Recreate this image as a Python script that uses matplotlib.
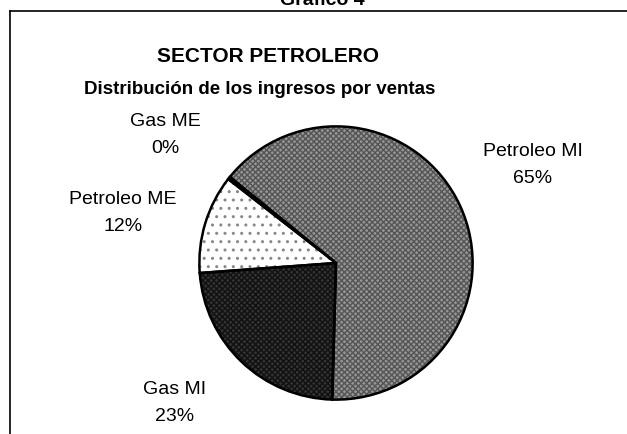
import matplotlib
matplotlib.use("Agg")
import matplotlib.pyplot as plt

plt.rcParams['font.family'] = ['Liberation Sans', 'DejaVu Sans']

categories = ["Petroleo MI", "Gas MI", "Petroleo ME", "Gas ME"]
values = [64.6, 23.4, 11.7, 0.3]
pct_labels = ["65%", "23%", "12%", "0%"]
title = "SECTOR PETROLERO"
subtitle = "Distribución de los ingresos por ventas"
chart_name = "Grafico 4"

W, H = 627, 435
fig = plt.figure(figsize=(W / 100, H / 100), dpi=100)

def fx(px):
    return px / W

def fy(py):
    return 1 - py / H

# frame (top and left lines)
fig.add_artist(plt.Line2D([fx(10), 1], [fy(12), fy(12)], color='black', lw=1.2))
fig.add_artist(plt.Line2D([fx(10), fx(10)], [fy(12), 0], color='black', lw=1.2))

fig.text(fx(322), fy(9), chart_name, ha='center', va='bottom', fontsize=14, fontweight='bold')
fig.text(fx(268), fy(57), title, ha='center', va='center', fontsize=15, fontweight='bold')
fig.text(fx(260), fy(90), subtitle, ha='center', va='center', fontsize=13.5, fontweight='bold')

cx, cy, r = 336, 264, 138
ax = fig.add_axes([fx(cx - r), fy(cy + r), 2 * r / W, 2 * r / H])

faces = ['#959595', '#333333', '#ffffff', '#ffffff']
hatches = ['xxxxxx', 'xxxxxx', '..', '']
hcolors = ['#555555', '#111111', '#888888', '#000000']

wedges, _ = ax.pie(values, startangle=141, counterclock=False, radius=1,
                   colors=faces, wedgeprops=dict(linewidth=0))
for w, h, hc in zip(wedges, hatches, hcolors):
    w.set_hatch(h)
    w.set_edgecolor(hc)
    w.set_linewidth(0)

wedges2, _ = ax.pie(values, startangle=141, counterclock=False, radius=1,
                    colors=['none'] * len(values),
                    wedgeprops=dict(linewidth=1.8, edgecolor='black', fill=False))
ax.set_xlim(-1.01, 1.01)
ax.set_ylim(-1.01, 1.01)
ax.axis('off')

label_pos = [(533, 165), (175, 403), (123, 213), (165, 135)]
for cat, pct, (px, py) in zip(categories, pct_labels, label_pos):
    fig.text(fx(px), fy(py), f"{cat}\n{pct}", ha='center', va='center',
             fontsize=14, linespacing=1.75)

fig.savefig("out.png", dpi=100)
